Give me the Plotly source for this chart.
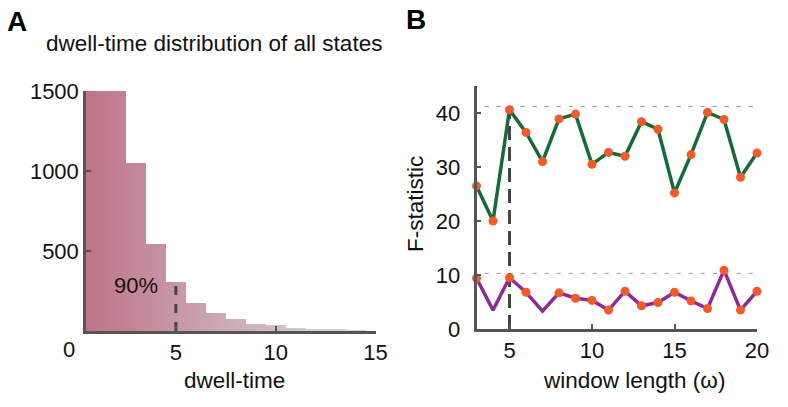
import numpy as np
import plotly.graph_objects as go

# ---------------- data ----------------
# Panel A: histogram of dwell-times (bin centres, width 1)
dwell_bins = [1, 2, 3, 4, 5, 6, 7, 8, 9, 10, 11, 12, 13, 14]
dwell_counts = [1500, 1498, 1052, 542, 306, 177, 110, 75, 44, 37, 19, 12, 8, 5]
dwell_cut = 5          # 90% cut-off
dwell_cut_label = "90%"
a_xticks = [5, 10, 15]
a_yticks = [500, 1000, 1500]

# Panel B: F-statistic vs window length
window = list(range(3, 21))
f_green = [26.5, 20.0, 40.6, 36.4, 31.0, 38.9, 39.8, 30.5, 32.7, 32.0,
           38.4, 37.0, 25.2, 32.3, 40.1, 38.8, 28.1, 32.6]
f_purple = [9.4, 3.5, 9.5, 6.8, 3.3, 6.7, 5.7, 5.3, 3.5, 7.0,
            4.3, 4.9, 6.8, 5.2, 3.8, 10.9, 3.5, 7.0]
purple_marked = [True, False, True, True, False, True, True, True, True, True,
                 True, True, True, True, True, True, True, True]
thresh_green = 41.2
thresh_purple = 10.3
chosen_window = 5
b_xticks = [5, 10, 15, 20]
b_yticks = [0, 10, 20, 30, 40]

# ---------------- styling ----------------
FONT = "Liberation Sans, Arial, Helvetica, sans-serif"
W, H = 788, 407
AX = "#555555"
GREEN = "#17693a"
PURPLE = "#8b2a98"
ORANGE = "#f25a26"
c_left = np.array([192, 116, 136])
c_right = np.array([212, 207, 210])

def grad(x):
    t = np.clip((x - 0.5) / 11.5, 0, 1)
    c = c_left + (c_right - c_left) * t
    return "rgb(%d,%d,%d)" % tuple(c.astype(int))

fig = go.Figure()

# Panel A bars: each bin split into thin slices for a horizontal gradient
nslice = 10
xs, ys, cs = [], [], []
for b, h in zip(dwell_bins, dwell_counts):
    for k in range(nslice):
        xc = b - 0.5 + (k + 0.5) / nslice
        xs.append(xc); ys.append(h); cs.append(grad(xc))
fig.add_trace(go.Bar(x=xs, y=ys, width=1.0 / nslice + 0.004, marker=dict(color=cs, line_width=0),
                     xaxis="x", yaxis="y", showlegend=False, hoverinfo="skip"))

cut_h = dwell_counts[dwell_bins.index(dwell_cut)]
fig.add_trace(go.Scatter(x=[dwell_cut, dwell_cut], y=[0, cut_h], mode="lines",
                         line=dict(color="#444444", width=3, dash="dash"),
                         xaxis="x", yaxis="y", showlegend=False))

# Panel B
for th in (thresh_green, thresh_purple):
    fig.add_trace(go.Scatter(x=[3.5, 20], y=[th] * 2, mode="lines",
                             line=dict(color="#999999", width=1, dash="4px,8px"),
                             xaxis="x2", yaxis="y2", showlegend=False))
fig.add_trace(go.Scatter(x=[chosen_window, chosen_window],
                         y=[0, f_green[window.index(chosen_window)]], mode="lines",
                         line=dict(color="#444444", width=3, dash="14px,7px"),
                         xaxis="x2", yaxis="y2", showlegend=False))
fig.add_trace(go.Scatter(x=window, y=f_green, mode="lines+markers",
                         line=dict(color=GREEN, width=3.5),
                         marker=dict(color=ORANGE, size=9),
                         xaxis="x2", yaxis="y2", showlegend=False, cliponaxis=False))
fig.add_trace(go.Scatter(x=window, y=f_purple, mode="lines",
                         line=dict(color=PURPLE, width=3.5),
                         xaxis="x2", yaxis="y2", showlegend=False, cliponaxis=False))
fig.add_trace(go.Scatter(x=[w for w, m in zip(window, purple_marked) if m],
                         y=[v for v, m in zip(f_purple, purple_marked) if m],
                         mode="markers", marker=dict(color=ORANGE, size=9),
                         xaxis="x2", yaxis="y2", showlegend=False, cliponaxis=False))

TICKFONT = dict(family=FONT, size=22, color="#111111")
axis_common = dict(showline=True, linecolor=AX, linewidth=2.5, ticks="inside",
                   tickcolor=AX, tickwidth=2, ticklen=5, showgrid=False, zeroline=False,
                   tickfont=TICKFONT, automargin=False)

def px(x, y, text, size, bold=False):
    return dict(text=text, x=x / W, y=1 - y / H, xref="paper", yref="paper",
                xanchor="center", yanchor="middle", showarrow=False,
                font=dict(size=size, family=FONT, color="black" if bold else "#111111",
                          weight="bold" if bold else "normal"))

fig.update_layout(
    width=W, height=H, margin=dict(l=0, r=0, t=0, b=0, autoexpand=False),
    paper_bgcolor="white", plot_bgcolor="white", bargap=0,
    font=dict(family=FONT, color="#111111"),
    xaxis=dict(domain=[86 / W, 376 / W], range=[0.5, 15.02], tickvals=a_xticks,
               anchor="y", **axis_common),
    yaxis=dict(domain=[76 / H, 316 / H], range=[0, 1500], tickvals=a_yticks,
               anchor="x", **axis_common),
    xaxis2=dict(domain=[476.5 / W, 757 / W], range=[3, 20], tickvals=b_xticks,
                anchor="y2", **axis_common),
    yaxis2=dict(domain=[78 / H, 321 / H], range=[0, 45], tickvals=b_yticks,
                anchor="x2", ticklabelstandoff=9, **axis_common),
    annotations=[
        px(17, 21, "A", 28, bold=True),
        px(416, 20, "B", 28, bold=True),
        px(214, 43, "dwell-time distribution of all states", 22.5),
        px(234, 380, "dwell-time", 22.5),
        px(634, 380, "window length (ω)", 22.5),
        dict(px(415, 204, "F-statistic", 22.5), textangle=-90),
        px(69, 349, "0", 22),
        dict(text=dwell_cut_label, x=3.0, y=287, xref="x", yref="y", showarrow=False,
             xanchor="center", yanchor="middle",
             font=dict(size=22, family=FONT, color="#111111")),
    ],
)

fig.write_html("out.html")
